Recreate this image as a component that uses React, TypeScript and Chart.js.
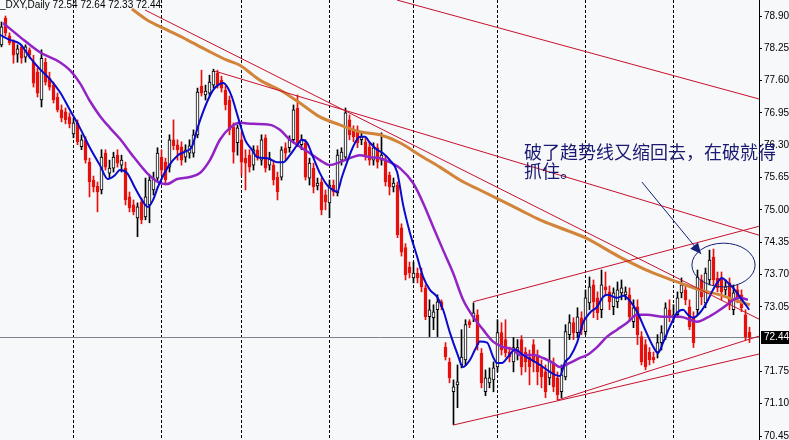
import React, { useEffect, useRef } from 'react';
import { Chart, registerables } from 'chart.js';
Chart.register(...registerables);

// ---- candle data (daily bars, oldest first) ----
const opens = [
  78.32, 78.86, 78.50, 78.38, 78.13, 78.28, 78.07, 78.22, 77.97, 77.77,
  77.21, 77.97, 77.65, 77.51, 77.27, 77.01, 76.97, 76.87, 76.53, 76.75,
  76.27, 76.41, 75.96, 75.60, 75.48, 75.40, 76.14, 75.74, 75.84, 76.10,
  75.90, 75.84, 75.26, 75.10, 74.84, 75.16, 74.86, 75.10, 75.40, 75.64,
  76.06, 75.96, 75.86, 76.41, 76.31, 76.27, 76.06, 76.14, 76.14, 76.51,
  77.49, 77.31, 77.35, 77.51, 77.75, 77.61, 77.41, 77.21, 76.67, 76.35,
  76.41, 76.04, 76.10, 75.90, 76.21, 76.00, 76.45, 75.90, 75.90, 75.66,
  75.66, 76.25, 76.25, 76.41, 77.05, 76.31, 76.35, 75.64, 75.84, 75.48,
  75.56, 75.30, 75.14, 75.50, 75.34, 76.00, 76.06, 76.81, 76.61, 76.61,
  76.41, 76.37, 76.27, 76.00, 76.25, 76.00, 76.00, 75.70, 75.46, 75.50,
  74.64, 74.24, 73.85, 73.63, 73.73, 73.73, 73.43, 72.85, 72.83, 72.99,
  73.15, 72.24, 71.94, 71.34, 71.48, 71.88, 71.98, 72.75, 72.85, 72.89,
  72.12, 71.34, 71.52, 71.58, 71.84, 72.53, 72.39, 72.14, 71.94, 72.14,
  72.39, 72.14, 72.04, 72.29, 72.08, 71.84, 71.74, 71.62, 71.92, 71.62,
  71.34, 71.64, 72.49, 72.73, 72.53, 72.83, 72.55, 73.13, 73.49, 73.23,
  72.99, 73.45, 73.35, 73.05, 73.15, 73.33, 73.29, 73.29, 72.75, 73.05,
  72.45, 72.29, 72.14, 72.04, 72.14, 72.33, 72.45, 72.99, 72.83, 72.89,
  73.33, 73.39, 73.05, 72.83, 72.99, 73.59, 73.13, 73.59, 74.05, 73.63,
  73.63, 73.39, 73.53, 72.99, 73.39, 73.29, 72.89, 72.54,
];
const highs = [
  78.78, 78.90, 78.56, 78.42, 78.32, 78.32, 78.32, 78.26, 78.11, 77.85,
  78.22, 78.05, 77.77, 77.57, 77.35, 77.11, 77.05, 76.95, 76.85, 76.81,
  76.51, 76.47, 76.04, 75.68, 75.56, 76.21, 76.21, 76.00, 76.16, 76.21,
  76.10, 75.96, 75.36, 75.20, 75.14, 75.24, 75.64, 75.70, 75.76, 76.25,
  76.21, 76.04, 76.51, 76.81, 76.41, 76.37, 76.31, 76.41, 76.61, 77.45,
  77.81, 77.51, 77.71, 77.83, 77.81, 77.69, 77.49, 77.29, 76.75, 76.71,
  76.57, 76.21, 76.21, 76.29, 76.29, 76.51, 76.51, 76.16, 76.00, 75.76,
  76.27, 76.35, 76.49, 77.11, 77.31, 76.51, 76.41, 76.04, 75.94, 75.64,
  75.64, 75.40, 75.60, 75.60, 76.21, 76.25, 77.05, 76.91, 76.69, 76.69,
  76.55, 76.45, 76.35, 76.35, 76.33, 76.55, 76.08, 75.76, 75.64, 75.56,
  74.72, 74.32, 73.95, 73.95, 73.83, 73.83, 73.49, 73.19, 73.09, 73.29,
  73.19, 72.33, 72.02, 71.58, 71.88, 72.59, 72.79, 72.79, 73.13, 72.99,
  72.21, 71.78, 71.82, 71.94, 72.79, 72.73, 72.79, 72.24, 72.43, 72.39,
  72.47, 72.23, 72.18, 72.39, 72.18, 71.98, 71.88, 72.39, 72.02, 71.74,
  71.88, 72.69, 72.89, 72.83, 73.03, 72.95, 73.39, 73.65, 73.59, 73.35,
  73.79, 73.75, 73.47, 73.43, 73.55, 73.59, 73.45, 73.43, 73.19, 73.19,
  72.55, 72.39, 72.23, 72.14, 72.49, 72.67, 73.13, 73.19, 73.09, 73.35,
  73.63, 73.49, 73.19, 72.95, 73.79, 73.69, 73.83, 74.19, 74.21, 73.75,
  73.75, 73.59, 73.63, 73.49, 73.49, 73.39, 72.99, 72.64,
];
const lows = [
  78.28, 78.50, 78.32, 77.95, 77.97, 77.95, 77.97, 78.05, 77.47, 77.27,
  77.07, 77.51, 77.41, 77.15, 76.97, 76.77, 76.73, 76.65, 76.45, 76.31,
  76.21, 75.94, 75.26, 75.36, 74.96, 75.32, 75.80, 75.64, 75.76, 75.86,
  75.76, 75.10, 74.96, 74.90, 74.46, 74.72, 74.80, 74.74, 75.30, 75.56,
  75.70, 75.50, 75.76, 76.21, 76.00, 75.90, 75.96, 76.04, 76.06, 76.45,
  77.29, 77.21, 77.29, 77.45, 77.45, 77.37, 77.01, 76.51, 75.94, 76.10,
  75.70, 75.40, 75.76, 75.80, 76.00, 75.90, 75.76, 75.80, 75.50, 75.20,
  75.60, 76.00, 76.16, 76.35, 76.27, 76.21, 75.60, 75.50, 75.34, 75.40,
  74.90, 75.00, 74.84, 75.28, 75.28, 75.90, 76.00, 76.41, 76.37, 76.25,
  76.31, 76.00, 75.90, 75.90, 75.84, 75.90, 75.48, 75.30, 75.36, 74.44,
  74.07, 73.59, 73.63, 73.53, 73.53, 73.35, 72.79, 72.45, 72.59, 72.45,
  72.99, 71.98, 71.52, 70.68, 71.02, 71.82, 71.88, 72.63, 72.75, 72.18,
  71.42, 71.26, 71.42, 71.34, 71.74, 72.08, 72.04, 71.94, 71.74, 71.98,
  71.68, 71.74, 71.48, 71.74, 71.48, 71.42, 71.22, 71.48, 71.34, 71.18,
  71.22, 71.58, 72.39, 72.39, 72.43, 72.49, 72.49, 72.99, 72.83, 72.79,
  72.83, 73.29, 72.99, 72.89, 73.03, 73.19, 73.19, 72.75, 72.63, 72.29,
  71.88, 71.78, 71.88, 71.92, 72.02, 72.18, 72.39, 72.75, 72.75, 72.83,
  73.23, 73.09, 72.59, 72.23, 72.89, 73.09, 73.03, 73.49, 73.49, 73.35,
  73.19, 73.29, 72.99, 72.89, 73.13, 72.95, 72.38, 72.33,
];
const closes = [
  78.68, 78.56, 78.36, 78.11, 78.24, 78.05, 78.28, 78.11, 77.55, 77.35,
  78.05, 77.57, 77.47, 77.21, 77.01, 76.85, 76.81, 76.73, 76.75, 76.37,
  76.41, 76.00, 75.56, 75.46, 75.36, 76.06, 75.86, 75.84, 76.06, 75.94,
  76.00, 75.20, 75.04, 74.96, 75.06, 74.80, 75.26, 75.60, 75.64, 76.14,
  75.80, 75.60, 76.41, 76.29, 76.21, 76.00, 76.21, 76.29, 76.51, 77.37,
  77.35, 77.39, 77.57, 77.79, 77.51, 77.45, 77.11, 76.61, 76.16, 76.65,
  75.96, 75.94, 75.86, 76.21, 76.06, 76.41, 75.84, 76.04, 75.60, 75.36,
  76.21, 76.14, 76.41, 77.01, 76.35, 76.41, 75.66, 75.94, 75.46, 75.54,
  75.00, 75.16, 75.50, 75.36, 76.10, 76.16, 76.95, 76.51, 76.47, 76.35,
  76.47, 76.10, 76.00, 76.25, 75.96, 76.10, 75.56, 75.46, 75.54, 74.50,
  74.15, 73.69, 73.73, 73.73, 73.63, 73.45, 72.85, 72.99, 72.95, 73.15,
  73.05, 72.04, 71.62, 71.44, 71.54, 72.04, 72.69, 72.69, 72.93, 72.29,
  71.52, 71.62, 71.62, 71.82, 72.53, 72.18, 72.12, 72.04, 72.23, 72.23,
  71.84, 71.94, 71.84, 71.94, 71.74, 71.64, 71.34, 71.98, 71.44, 71.28,
  71.68, 72.55, 72.73, 72.53, 72.85, 72.59, 73.23, 73.45, 73.15, 72.93,
  73.49, 73.39, 73.15, 73.33, 73.39, 73.43, 73.35, 72.85, 73.03, 72.49,
  71.94, 71.84, 71.98, 71.98, 72.33, 72.53, 73.03, 72.83, 72.89, 73.23,
  73.49, 73.19, 72.65, 72.33, 73.65, 73.25, 73.73, 73.99, 73.59, 73.43,
  73.35, 73.45, 73.09, 73.33, 73.23, 73.03, 72.45, 72.44,
];

// ---- indicator lines: [bar index, price] ----
const fastMA = [
  [-0.4, 78.52], [2.1, 78.42], [4.6, 78.34], [7.1, 78.07], [9.6, 77.83], [12.1, 77.63],
  [14.6, 77.37], [17.1, 77.01], [19.6, 76.65], [22.1, 76.25], [24.6, 75.90], [26.6, 75.62],
  [28.4, 75.70], [29.6, 75.80], [31.4, 75.74], [33.4, 75.44], [35.1, 75.20], [36.6, 75.06],
  [37.9, 75.20], [39.1, 75.46], [41.6, 75.86], [44.1, 76.10], [45.9, 76.17], [47.6, 76.27],
  [49.1, 76.67], [50.4, 76.97], [51.6, 77.21], [52.9, 77.41], [54.1, 77.51], [55.4, 77.55],
  [56.6, 77.45], [57.6, 77.27], [59.1, 76.87], [60.9, 76.41], [62.6, 76.21], [63.9, 76.06],
  [66.4, 76.04], [68.9, 75.96], [70.4, 75.96], [72.1, 76.10], [73.9, 76.30], [75.1, 76.41],
  [76.4, 76.35], [77.9, 76.06], [79.6, 75.74], [81.4, 75.50], [82.9, 75.40], [83.9, 75.36],
  [85.1, 75.66], [86.4, 75.96], [87.9, 76.27], [89.6, 76.47], [90.9, 76.47], [92.1, 76.35],
  [93.9, 76.21], [95.4, 76.14], [97.1, 76.00], [98.9, 75.76], [100.4, 75.10], [102.1, 74.54],
  [103.9, 74.06], [105.4, 73.65], [107.1, 73.39], [108.9, 73.25], [110.4, 72.99], [112.1, 72.53],
  [113.9, 72.12], [115.4, 71.84], [117.1, 71.98], [118.4, 72.19], [119.6, 72.35], [121.4, 72.33],
  [122.9, 72.04], [123.9, 71.92], [125.1, 71.92], [126.6, 72.04], [128.4, 72.19], [130.4, 72.08],
  [132.1, 72.00], [134.6, 71.88], [137.1, 71.74], [138.4, 71.68], [139.6, 71.66], [140.9, 71.94],
  [142.1, 72.04], [143.9, 72.33], [145.4, 72.73], [147.1, 72.93], [148.9, 73.05], [150.4, 73.25],
  [151.6, 73.29], [153.9, 73.23], [155.4, 73.27], [157.1, 73.17], [158.9, 72.95], [160.9, 72.59],
  [162.9, 72.25], [164.1, 72.12], [165.4, 72.33], [167.1, 72.65], [168.9, 72.93], [170.4, 72.99],
  [171.6, 72.89], [172.9, 72.83], [174.6, 72.93], [176.4, 73.15], [177.6, 73.35], [178.9, 73.53],
  [180.1, 73.63], [181.4, 73.55], [182.9, 73.43], [184.6, 73.25], [186.4, 73.05], [186.9, 72.99],
];
const midMA = [
  [0.4, 78.76], [4.6, 78.48], [9.6, 78.17], [14.6, 77.97], [17.1, 77.81], [19.6, 77.55],
  [22.1, 77.19], [24.6, 76.89], [27.1, 76.65], [29.6, 76.43], [32.9, 76.08], [36.4, 75.74],
  [39.6, 75.54], [41.4, 75.52], [43.9, 75.62], [47.1, 75.66], [49.6, 75.74], [52.1, 76.00],
  [54.6, 76.41], [57.1, 76.65], [59.6, 76.75], [62.9, 76.73], [67.1, 76.71], [69.6, 76.61],
  [72.1, 76.41], [74.6, 76.27], [77.1, 76.14], [79.6, 76.00], [82.1, 75.90], [84.6, 75.96],
  [87.1, 76.04], [89.6, 76.10], [92.1, 76.06], [94.6, 76.04], [97.1, 75.96], [99.6, 75.84],
  [102.9, 75.54], [105.4, 75.14], [107.9, 74.66], [110.4, 74.19], [112.9, 73.73], [115.4, 73.19],
  [117.9, 72.85], [120.4, 72.59], [122.9, 72.35], [125.4, 72.24], [127.9, 72.19], [129.6, 72.08],
  [132.9, 72.08], [135.4, 72.02], [137.9, 71.92], [139.6, 71.84], [142.1, 71.92], [144.6, 72.02],
  [146.4, 72.08], [148.9, 72.24], [151.4, 72.45], [153.9, 72.59], [156.4, 72.73], [158.9, 72.89],
  [161.4, 72.89], [165.4, 72.85], [169.6, 72.85], [173.9, 72.75], [176.4, 72.83], [178.9, 72.95],
  [181.4, 73.09], [182.9, 73.19], [184.6, 73.23], [186.6, 73.19],
];
const slowMA = [
  [32.6, 79.04], [36.4, 78.82], [41.4, 78.62], [46.4, 78.42], [51.4, 78.21], [56.4, 78.01],
  [59.6, 77.91], [62.9, 77.71], [64.6, 77.61], [69.6, 77.41], [74.6, 77.15], [79.6, 76.87],
  [84.6, 76.71], [89.6, 76.57], [94.6, 76.51], [99.6, 76.35], [104.6, 76.10], [109.6, 75.86],
  [114.6, 75.60], [119.6, 75.40], [124.6, 75.20], [129.6, 75.00], [134.6, 74.80], [139.6, 74.64],
  [145.9, 74.44], [154.6, 74.05], [162.9, 73.73], [169.6, 73.53], [174.6, 73.39], [179.6, 73.29],
  [184.6, 73.15], [187.1, 73.09],
];

// ---- hand-drawn trend lines: [bar1, price1, bar2, price2] ----
const trendLines = [
  [98.9, 79.22, 189.4, 77.23],
  [35.9, 79.02, 189.4, 72.80],
  [53.4, 77.79, 189.4, 74.49],
  [117.9, 73.15, 189.4, 74.67],
  [112.9, 70.67, 189.4, 72.10],
  [138.9, 71.17, 189.4, 72.46],
];

const priceTicks = [78.90, 78.25, 77.60, 76.95, 76.30, 75.65, 75.00, 74.35, 73.70, 73.05, 71.75, 71.10, 70.45];
const gridBars = [18, 40, 60, 82, 103, 124, 146, 168];
const symbolName = '_DXY,Daily';
const noteLines = ['破了趋势线又缩回去，在破就得', '抓住。'];
// note anchors in data space
const noteAt = [130.6, 76.345];
const arrowFrom = [160.1, 75.56];
const arrowTo = [174.9, 74.11];
const circleBox = [172.6, 74.33, 188.4, 73.45];

const BG = '#f7f8f9';
const RED = '#e8100c';
const LINE_RED = '#c8102e';
const NAVY = '#16207a';

const last = closes.length - 1;
const lastPrice = closes[last];
const fmt = (v: number) => v.toFixed(2);

const decor = {
  id: 'decor',
  beforeDraw(chart: any) {
    const { ctx, width, height } = chart;
    ctx.save();
    ctx.fillStyle = BG;
    ctx.fillRect(0, 0, width, height);
    ctx.restore();
  },
  beforeDatasetsDraw(chart: any) {
    const { ctx, chartArea: a, scales } = chart;
    const x = scales.x, y = scales.y;
    ctx.save();
    ctx.strokeStyle = '#000';
    ctx.lineWidth = 1;
    ctx.setLineDash([3, 2]);
    gridBars.forEach((g) => {
      const px = Math.round(x.getPixelForValue(g) - 0.5) + 0.5;
      ctx.beginPath();
      ctx.moveTo(px, a.top);
      ctx.lineTo(px, a.bottom);
      ctx.stroke();
    });
    ctx.setLineDash([]);
    const py = Math.round(y.getPixelForValue(lastPrice)) + 0.5;
    ctx.strokeStyle = '#7d838b';
    ctx.beginPath();
    ctx.moveTo(a.left, py);
    ctx.lineTo(a.right, py);
    ctx.stroke();
    ctx.restore();
  },
  afterDraw(chart: any) {
    const { ctx, chartArea: a, scales, width } = chart;
    const x = scales.x, y = scales.y;
    ctx.save();
    // circle
    const cx1 = x.getPixelForValue(circleBox[0]), cy1 = y.getPixelForValue(circleBox[1]);
    const cx2 = x.getPixelForValue(circleBox[2]), cy2 = y.getPixelForValue(circleBox[3]);
    ctx.strokeStyle = NAVY;
    ctx.lineWidth = 1;
    ctx.beginPath();
    ctx.ellipse((cx1 + cx2) / 2, (cy1 + cy2) / 2, Math.abs(cx2 - cx1) / 2, Math.abs(cy2 - cy1) / 2, 0, 0, Math.PI * 2);
    ctx.stroke();
    // arrow
    const ax1 = x.getPixelForValue(arrowFrom[0]), ay1 = y.getPixelForValue(arrowFrom[1]);
    const ax2 = x.getPixelForValue(arrowTo[0]), ay2 = y.getPixelForValue(arrowTo[1]);
    ctx.beginPath();
    ctx.moveTo(ax1, ay1);
    ctx.lineTo(ax2, ay2);
    ctx.stroke();
    const ang = Math.atan2(ay2 - ay1, ax2 - ax1);
    const hl = 11, hw = 5;
    const bx = ax2 - hl * Math.cos(ang), by = ay2 - hl * Math.sin(ang);
    ctx.fillStyle = NAVY;
    ctx.beginPath();
    ctx.moveTo(ax2, ay2);
    ctx.lineTo(bx + hw * Math.sin(ang), by - hw * Math.cos(ang));
    ctx.lineTo(bx - hw * Math.sin(ang), by + hw * Math.cos(ang));
    ctx.closePath();
    ctx.fill();
    // note text
    ctx.fillStyle = '#1a1a72';
    ctx.font = '18px "Noto Sans CJK SC", sans-serif';
    ctx.textBaseline = 'top';
    ctx.textAlign = 'left';
    const tx = x.getPixelForValue(noteAt[0]), ty = y.getPixelForValue(noteAt[1]);
    noteLines.forEach((s, i) => ctx.fillText(s, tx, ty + i * 19));
    // current price box
    const py = Math.round(y.getPixelForValue(lastPrice));
    ctx.fillStyle = '#000';
    ctx.fillRect(a.right + 2, py - 6, width - a.right - 2, 13);
    ctx.fillStyle = '#fff';
    ctx.font = '10px "Liberation Sans", Arial, sans-serif';
    ctx.textBaseline = 'middle';
    ctx.fillText(fmt(lastPrice), a.right + 5, py + 0.5);
    // title
    ctx.fillStyle = '#000';
    ctx.textBaseline = 'alphabetic';
    ctx.fillText(`${symbolName} ${fmt(opens[last])} ${fmt(highs[last])} ${fmt(lows[last])} ${fmt(closes[last])}`, 0, 8);
    ctx.restore();
  },
};

export default function App() {
  const ref = useRef<HTMLCanvasElement>(null);
  useEffect(() => {
    document.body.style.margin = '0';
    const isBull = (i: number) => closes[i] >= opens[i];
    const idx = opens.map((_, i) => i);
    const chart = new Chart(ref.current as HTMLCanvasElement, {
      type: 'bar',
      data: {
        datasets: [
          ...trendLines.map((t) => ({
            type: 'line' as const,
            data: [{ x: t[0], y: t[1] }, { x: t[2], y: t[3] }],
            borderColor: LINE_RED,
            borderWidth: 1,
            pointRadius: 0,
            order: 0,
          })),
          {
            type: 'line' as const,
            data: fastMA.map((p) => ({ x: p[0], y: p[1] })),
            borderColor: '#0a0acc',
            borderWidth: 2,
            pointRadius: 0,
            cubicInterpolationMode: 'monotone' as const,
            order: 1,
          },
          {
            type: 'line' as const,
            data: midMA.map((p) => ({ x: p[0], y: p[1] })),
            borderColor: '#9224c6',
            borderWidth: 2.5,
            pointRadius: 0,
            cubicInterpolationMode: 'monotone' as const,
            order: 2,
          },
          {
            type: 'line' as const,
            data: slowMA.map((p) => ({ x: p[0], y: p[1] })),
            borderColor: '#d2843a',
            borderWidth: 3,
            pointRadius: 0,
            cubicInterpolationMode: 'monotone' as const,
            order: 3,
          },
          {
            type: 'bar' as const,
            data: idx.map((i) => ({ x: i, y: [opens[i], closes[i]] })),
            backgroundColor: idx.map((i) => (isBull(i) ? '#ffffff' : RED)),
            borderColor: idx.map((i) => (isBull(i) ? '#000000' : RED)),
            borderWidth: 1,
            borderSkipped: false,
            barThickness: 3,
            grouped: false,
            order: 5,
          },
          {
            type: 'bar' as const,
            data: idx.map((i) => ({ x: i, y: [lows[i], highs[i]] })),
            backgroundColor: idx.map((i) => (isBull(i) ? '#000000' : RED)),
            borderWidth: 0,
            barThickness: 1,
            grouped: false,
            order: 6,
          },
        ] as any,
      },
      options: {
        animation: false,
        responsive: false,
        devicePixelRatio: 1,
        events: [],
        layout: { padding: 0 },
        plugins: { legend: { display: false }, tooltip: { enabled: false } },
        scales: {
          x: {
            type: 'linear',
            display: false,
            min: -0.375,
            max: 189.375,
            offset: false,
            grid: { display: false },
          },
          y: {
            position: 'right',
            min: 70.37,
            max: 79.222,
            afterBuildTicks: (s: any) => {
              s.ticks = priceTicks.map((v) => ({ value: v }));
            },
            afterFit: (s: any) => {
              s.width = 30;
              s.paddingTop = 0;
              s.paddingBottom = 0;
            },
            ticks: {
              autoSkip: false,
              padding: 2,
              color: '#000',
              font: { family: '"Liberation Sans", Arial, sans-serif', size: 10 },
              callback: (v: any) => fmt(Number(v)),
            },
            grid: { drawOnChartArea: false, drawTicks: true, tickLength: 3, color: '#000' },
            border: { display: true, color: '#000', width: 1 },
          },
        },
      } as any,
      plugins: [decor],
    });
    return () => chart.destroy();
  }, []);
  return (
    <div style={{ position: 'fixed', left: 0, top: 0, width: 789, height: 440 }}>
      <canvas ref={ref} width={789} height={440} style={{ display: 'block' }} />
    </div>
  );
}
